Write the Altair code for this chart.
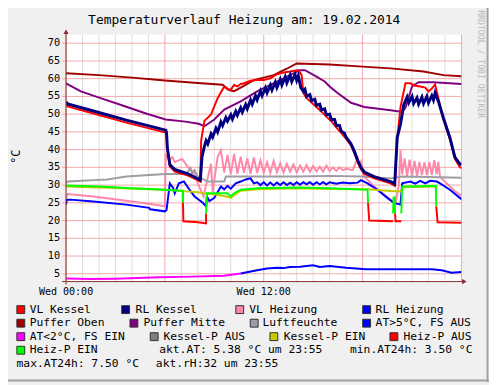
import altair as alt
import pandas as pd

# ---------------- data (hours since Wed 00:00, °C) ----------------
po_h = [0, 2, 4, 6, 8, 9.5, 9.9, 10.2, 10.6, 11.4, 12.6, 13.4, 14.0, 16, 18, 19.7, 21.7, 22.9, 24]
po_v = [61.5, 61.0, 60.3, 59.5, 58.8, 58.3, 56.8, 56.5, 57.5, 59.6, 61.0, 62.8, 64.3, 64.0, 63.4, 62.9, 62.0, 61.0, 60.7]

pm_h = [0, 0.9, 2.1, 3.7, 4.9, 6.05, 7.25, 8.05, 8.4, 9.0, 9.6, 10.6, 11.6, 12.8, 14.2, 14.5, 15.2, 15.7, 16.0,
        16.5, 17.3, 18.1, 19.7, 20.4, 20.6, 21.0, 21.4, 22.3, 24]
pm_v = [58.7, 56.4, 54.5, 52.0, 50.1, 48.5, 47.9, 47.3, 46.6, 48.5, 51.3, 53.6, 56.4, 59.2, 62.4, 62.4, 60.6, 59.2, 57.8,
        55.9, 53.2, 52.0, 51.1, 50.6, 51.8, 57.8, 59.0, 59.0, 58.5]

vlh_h = [0, 0.1, 1.66, 3.66, 5.65, 6.0, 6.05, 6.25, 6.45, 6.6, 7.05, 7.4, 7.8, 8.0, 8.35, 8.45, 8.8, 8.9, 9.2, 9.4,
         9.6, 9.8, 10.0, 10.2, 10.4, 10.6, 10.8, 11.0, 11.2, 11.4, 11.6, 11.8, 12.0, 12.2, 12.4, 12.6, 12.8, 13.0,
         13.2, 13.4, 13.6, 13.8, 14.0, 14.2, 14.4, 14.6, 14.8, 15.0, 15.2, 15.4, 15.6, 15.8, 16.0, 16.2, 16.4,
         16.6, 16.8, 17.0, 17.4, 17.6, 17.7, 17.8, 17.9, 18.1, 18.7, 19.7, 20.0, 20.2, 20.3, 20.4, 20.55, 20.7,
         20.85, 21.0, 21.15, 21.3, 21.45, 21.6, 21.75, 21.9, 22.05, 22.2, 22.35, 22.5, 22.6, 22.7, 23.1, 23.5,
         23.9, 24.0]
vlh_v = [26.5, 27.5, 26.8, 25.6, 24.3, 24.0, 38.8, 37.0, 37.9, 36.5, 37.4, 35.1, 33.3, 30.5, 26.8, 29.0, 36.0, 28.0,
         37.9, 39.8, 33.5, 38.5, 33.0, 38.8, 33.2, 38.0, 33.5, 37.5, 33.2, 37.8, 33.4, 37.0, 33.5, 36.5, 33.4, 36.8,
         33.6, 36.2, 33.5, 36.0, 33.8, 35.8, 33.6, 35.5, 33.8, 35.6, 33.8, 35.4, 33.9, 35.2, 33.8, 35.5, 34.0, 35.0,
         34.0, 35.0, 34.2, 34.6, 34.2, 36.5, 37.5, 35.0, 36.5, 32.4, 29.6, 25.9, 25.0, 30.0, 39.8, 33.0, 37.5, 32.5,
         37.2, 32.5, 36.8, 32.6, 36.5, 32.8, 36.4, 32.8, 36.5, 32.8, 37.0, 33.0, 36.5, 32.4, 30.5, 28.7, 27.3, 27.0]

lf_h = [0, 0.1, 1.0, 1.66, 2.5, 3.66, 4.85, 6.0, 7.3, 7.55, 7.65, 7.8, 8.0, 8.6, 9.6, 9.7, 10.0, 12, 14, 16, 18,
        19.7, 20.4, 22, 24]
lf_v = [30.6, 31.0, 31.2, 31.4, 31.6, 32.4, 32.8, 33.1, 33.1, 34.8, 33.2, 34.2, 32.4, 31.0, 31.0, 32.4, 32.4, 32.4,
        32.4, 32.6, 32.4, 31.9, 32.4, 32.3, 32.1]

rlh_h = [0, 0.05, 0.27, 1.66, 3.66, 5.05, 5.1, 6.0, 6.1, 6.3, 6.5, 6.6, 6.85, 7.15, 7.45, 7.8, 8.3, 8.5, 8.55, 8.7,
         9.0, 9.4, 9.6, 9.8, 10.0, 10.3, 10.6, 10.9, 11.2, 11.4, 11.6, 11.8, 12.0, 12.2, 12.4, 12.6, 12.8, 13.0,
         13.2, 13.4, 13.6, 13.8, 14.0, 14.2, 14.4, 14.6, 14.8, 15.0, 15.2, 15.4, 15.6, 15.8, 16.0, 16.4, 16.8,
         17.2, 17.7, 17.9, 18.3, 18.9, 19.5, 19.9, 20.3, 20.4, 20.9, 21.2, 21.5, 21.8, 22.1, 22.5, 22.7, 23.3,
         23.9, 24.0]
rlh_v = [24.5, 25.9, 25.9, 25.4, 24.5, 23.6, 23.2, 22.6, 23.0, 30.5, 29.2, 27.7, 30.5, 31.0, 29.0, 26.8, 25.0, 24.0,
         26.8, 25.5, 26.4, 29.6, 28.8, 29.8, 29.0, 30.5, 31.0, 31.6, 31.9, 30.5, 30.8, 30.0, 30.8, 29.9, 30.7, 29.9,
         30.7, 30.0, 30.8, 30.0, 30.7, 30.0, 30.8, 30.1, 30.8, 30.2, 30.8, 30.1, 30.8, 30.2, 30.8, 30.2, 30.8, 30.4,
         30.7, 30.5, 30.7, 31.4, 30.5, 28.7, 26.4, 25.0, 24.5, 30.5, 31.0, 30.4, 31.2, 30.5, 31.2, 31.0, 30.5, 28.7,
         26.4, 26.0]

kp_h = [0, 3, 6, 7.1, 8.0, 8.5, 9.0, 9.8, 10.0, 10.3, 10.6, 11.6, 14, 16, 18.3, 19.5, 20.3, 20.45, 22.45]
kp_v = [29.6, 29.2, 28.7, 28.3, 28.0, 27.6, 27.4, 26.7, 26.4, 27.4, 28.4, 28.8, 29.1, 28.9, 28.8, 28.4, 28.2, 29.4, 29.6]

hp_h = [0.0, 2.0, 4.0, 6.0, 7.05, 7.1, 7.1, 7.1, 7.12, 8.0, 8.5, 8.5, 8.5, 8.55, 9.8, 10.0, 10.2, 10.6, 11.6, 14.0,
        16.0, 18.3, 18.33, 18.33, 18.4, 19.85, 19.85, 19.88, 19.95, 19.97, 19.97, 20.0, 20.35, 20.35, 20.4, 21.5,
        22.45, 22.47, 22.47, 22.55, 24.0]
hp_v = [29.9, 29.6, 29.1, 28.7, 28.4, 28.3, 25.0, 25.0, 19.8, 19.5, 19.2, 22.0, 22.0, 27.7, 27.7, 26.8, 27.7, 28.7,
        29.1, 29.3, 29.1, 28.7, 25.0, 25.0, 20.0, 19.8, 22.0, 26.5, 26.5, 22.0, 22.0, 19.8, 19.8, 22.0, 29.6, 29.7,
        29.8, 24.0, 24.0, 19.5, 19.4]
hp_on = [1, 1, 1, 1, 1, 1, 1, 0, 0, 0, 0, 0, 1, 1, 1, 1, 1, 1, 1, 1,
         1, 1, 1, 0, 0, 0, 1, 1, 1, 1, 0, 0, 0, 1, 1, 1,
         1, 1, 0, 0, 0]

vlk_h = [0.0, 0.1, 1.66, 3.66, 6.05, 6.1, 6.15, 6.3, 6.6, 7.4, 8.0, 8.15, 8.2, 8.4, 8.8, 9.2, 9.6, 9.8, 10.0, 10.2,
         10.4, 10.6, 10.8, 11.2, 11.6, 12.0, 12.4, 12.7, 13.0, 13.3, 13.6, 14.1, 14.3, 14.4, 14.6, 14.9, 15.2,
         15.5, 15.8, 16.1, 16.4, 16.7, 17.0, 17.3, 17.5, 17.7, 17.9, 18.1, 18.7, 19.7, 19.95, 20.1, 20.3, 20.6,
         20.9, 21.2, 21.5, 21.8, 22.0, 22.2, 22.4, 22.6, 22.9, 23.3, 23.6, 23.9, 24.0]
vlk_v = [52.9, 52.2, 50.2, 47.6, 44.8, 44.2, 40.0, 35.2, 33.8, 32.7, 31.4, 31.0, 42.5, 48.1, 49.9, 54.5, 57.8, 57.0,
         56.9, 58.2, 57.8, 58.5, 58.7, 59.4, 59.6, 59.6, 60.1, 61.0, 61.5, 61.8, 62.0, 62.4, 61.0, 56.0, 54.5, 53.3,
         52.0, 50.7, 49.3, 48.0, 46.3, 44.7, 43.0, 41.1, 39.0, 36.5, 34.5, 33.2, 31.9, 30.5, 29.8, 43.0, 52.0, 58.7,
         58.7, 58.0, 57.8, 57.5, 56.4, 57.2, 58.4, 54.5, 48.5, 42.9, 37.4, 35.1, 34.8]

rlk_h = [0.0, 0.1, 1.66, 3.66, 6.05, 6.1, 6.15, 6.3, 6.6, 7.4, 8.0, 8.15, 8.25, 8.4, 8.5, 8.6, 8.8, 8.9, 9.1, 9.2,
         9.4, 9.5, 9.7, 9.8, 10.0, 10.1, 10.3, 10.4, 10.6, 10.7, 10.9, 11.0, 11.2, 11.3, 11.5, 11.6, 11.8, 11.9,
         12.1, 12.2, 12.4, 12.5, 12.7, 12.8, 13.0, 13.1, 13.3, 13.4, 13.6, 13.7, 13.9, 14.0, 14.1, 14.25, 14.4,
         14.5, 14.6, 14.8, 14.9, 15.1, 15.2, 15.4, 15.5, 15.7, 15.8, 16.0, 16.1, 16.3, 16.4, 16.6, 16.7, 16.9,
         17.0, 17.3, 17.5, 17.7, 17.9, 18.1, 18.7, 19.7, 19.95, 20.1, 20.3, 20.5, 20.7, 20.8, 21.0, 21.1, 21.3,
         21.4, 21.6, 21.7, 21.9, 22.0, 22.2, 22.3, 22.4, 22.6, 22.9, 23.3, 23.6, 23.9, 24.0]
rlk_v = [53.4, 52.9, 50.9, 48.3, 45.5, 44.8, 40.5, 35.8, 34.4, 33.2, 31.8, 31.4, 37.9, 41.0, 42.5, 41.6, 44.4, 43.5,
         46.0, 45.0, 47.8, 46.8, 49.0, 48.0, 49.8, 48.6, 50.8, 49.7, 51.8, 50.6, 52.7, 51.5, 54.0, 52.8, 55.2, 54.0,
         56.5, 55.2, 57.4, 56.0, 58.2, 56.8, 59.0, 57.5, 59.8, 58.2, 60.5, 58.8, 61.0, 59.2, 61.2, 59.5, 60.8, 57.5,
         56.5, 57.0, 55.0, 55.5, 53.8, 54.2, 52.5, 52.8, 51.2, 51.5, 49.8, 50.0, 48.5, 48.5, 46.8, 46.8, 45.2, 44.6,
         43.5, 41.6, 39.5, 37.0, 35.0, 33.7, 32.4, 31.0, 30.3, 43.4, 47.2, 52.7, 54.8, 53.2, 55.0, 53.0, 54.6, 52.8,
         54.8, 53.0, 55.0, 53.2, 55.2, 54.0, 56.0, 53.6, 49.0, 43.4, 37.9, 36.0, 35.8]

atc_h = [0, 1.5, 3, 5.65, 7.65, 9.6, 10.6]
atc_v = [3.7, 3.5, 3.6, 4.0, 4.2, 4.45, 5.1]
atw_h = [10.6, 11.6, 12.2, 12.8, 13.2, 13.6, 14.2, 15.0, 15.4, 16.0, 17.0, 18.2, 19.6, 22.2, 22.8, 23.4, 24.0]
atw_v = [5.1, 6.0, 6.5, 6.7, 6.6, 6.9, 7.0, 7.4, 6.9, 7.2, 6.7, 6.3, 6.3, 6.3, 6.0, 5.3, 5.5]

y_ticks = [5, 10, 15, 20, 25, 30, 35, 40, 45, 50, 55, 60, 65, 70]
x_label_h = [0, 12]
x_labels = ["Wed 00:00", "Wed 12:00"]
x_minor_h = [h for h in range(1, 24) if h % 6]
x_major_h = [0, 6, 12, 18, 24]

legend_names = ["VL Kessel", "RL Kessel", "VL Heizung", "RL Heizung",
                "Puffer Oben", "Puffer Mitte", "Luftfeuchte", "AT>5°C, FS AUS",
                "AT<2°C, FS EIN", "Kessel-P AUS", "Kessel-P EIN", "Heiz-P AUS",
                "Heiz-P EIN"]
legend_colors = ["#ff0000", "#000080", "#ff88aa", "#0000ff",
                 "#a00000", "#800080", "#a098a4", "#0000ff",
                 "#ff00ff", "#808080", "#c8c800", "#ff0000",
                 "#00ff00"]
info_texts = ["akt.AT: 5.38 °C um 23:55", "min.AT24h: 3.50 °C",
              "max.AT24h: 7.50 °C", "akt.rH:32 um 23:55"]
title_text = "Temperaturverlauf Heizung am: 19.02.2014"

# ---------------- layout (page pixels) ----------------
PX0, PY0 = 67, 32          # plot origin on the page
W, H = 402, 251
FONT = "DejaVu Sans Mono"

xs = alt.Scale(domain=[0, 24], nice=False, zero=False)
ys = alt.Scale(domain=[2.8, 72.4], nice=False, zero=False)
X = alt.X("h:Q", scale=xs, axis=None)
Y = alt.Y("v:Q", scale=ys, axis=None)


def line(h, v, color, width=2):
    df = pd.DataFrame({"h": h, "v": v, "i": range(len(h))})
    return alt.Chart(df).mark_line(color=color, strokeWidth=width, clip=True).encode(
        x=X, y=Y, order="i:Q")


def seg_line(h, v, on, c_on, c_off, width=2):
    seg, s = [], 0
    for k in range(len(on)):
        if k > 0 and on[k] != on[k - 1]:
            s += 1
        seg.append(s)
    df = pd.DataFrame({"h": h, "v": v, "on": on, "seg": seg, "i": range(len(h))})
    return alt.Chart(df).mark_line(strokeWidth=width, clip=True).encode(
        x=X, y=Y, order="i:Q", detail="seg:N",
        color=alt.Color("on:N", scale=alt.Scale(domain=[0, 1], range=[c_off, c_on]), legend=None))


# grid
hgrid = alt.Chart(pd.DataFrame({"v": y_ticks})).mark_rule(color="#f2a8a8", strokeWidth=1).encode(
    y=Y, x=alt.value(-4), x2=alt.value(W))
vminor = alt.Chart(pd.DataFrame({"h": x_minor_h})).mark_rule(color="#dcdcdc", strokeWidth=1).encode(
    x=X, y=alt.value(0), y2=alt.value(H))
vmajor = alt.Chart(pd.DataFrame({"h": x_major_h})).mark_rule(color="#f2a8a8", strokeWidth=1).encode(
    x=X, y=alt.value(0), y2=alt.value(H))

# data lines
lines = [
    line(po_h, po_v, "#a00000"),
    line(pm_h, pm_v, "#800080"),
    line(vlh_h, vlh_v, "#ff88aa"),
    line(lf_h, lf_v, "#a09ca4"),
    line(rlh_h, rlh_v, "#0000ff"),
    line(kp_h, kp_v, "#c8c800"),
    seg_line(hp_h, hp_v, hp_on, "#00ff00", "#ff0000"),
    line(vlk_h, vlk_v, "#ff0000"),
    line(rlk_h, rlk_v, "#000080", 3),
    line(atc_h, atc_v, "#ff00ff"),
    line(atw_h, atw_v, "#0000ff"),
]

# axes with arrows
axis_col = "#8a2a2a"
xaxis = alt.Chart(pd.DataFrame({"a": [0]})).mark_rule(color=axis_col, strokeWidth=1).encode(
    x=alt.value(-4), x2=alt.value(W + 3), y=alt.value(H))
yaxis = alt.Chart(pd.DataFrame({"a": [0]})).mark_rule(color=axis_col, strokeWidth=1).encode(
    x=alt.value(0), y=alt.value(H + 3), y2=alt.value(-3))
arrow_up = alt.Chart(pd.DataFrame({"a": [0]})).mark_point(
    shape="triangle-up", filled=True, color=axis_col, size=28, opacity=1).encode(
    x=alt.value(0), y=alt.value(-3))
arrow_right = alt.Chart(pd.DataFrame({"a": [0]})).mark_point(
    shape="triangle-right", filled=True, color=axis_col, size=28, opacity=1).encode(
    x=alt.value(W + 3), y=alt.value(H))

ylab = alt.Chart(pd.DataFrame({"v": y_ticks, "t": [str(t) for t in y_ticks]})).mark_text(
    font=FONT, fontSize=10.4, align="right", baseline="middle", color="#000000").encode(
    y=Y, x=alt.value(-6), text="t:N")
xlab = alt.Chart(pd.DataFrame({"h": x_label_h, "t": x_labels})).mark_text(
    font=FONT, fontSize=10.2, align="center", baseline="middle", color="#000000").encode(
    x=X, y=alt.value(294 - PY0), text="t:N")

# free texts positioned in page pixels
row_y = [311.5, 325.3, 339.0, 352.8, 367.0]
sq_x = [16.7, 123.3, 239.3, 368.3,
        16.7, 131.7, 254.0, 368.3,
        16.7, 152.3, 274.0, 396.0,
        16.7]
tx_x = [30.0, 137.7, 253.3, 381.7,
        30.0, 145.7, 266.7, 381.7,
        30.0, 166.0, 288.3, 410.0,
        30.0]
sq_row = [0, 0, 0, 0, 1, 1, 1, 1, 2, 2, 2, 2, 3]

leg_sq = pd.DataFrame({
    "px": [x + 4.3 - PX0 for x in sq_x],
    "py": [row_y[r] - PY0 for r in sq_row],
    "c": legend_colors,
})
leg_tx = pd.DataFrame({
    "px": [x - PX0 for x in tx_x] + [161.7 - PX0, 355.7 - PX0, 16.7 - PX0, 158.3 - PX0],
    "py": [row_y[r] - PY0 for r in sq_row] + [row_y[3] - PY0, row_y[3] - PY0, row_y[4] - PY0, row_y[4] - PY0],
    "t": legend_names + info_texts,
})

squares = alt.Chart(leg_sq).mark_square(size=64, stroke="#303030", strokeWidth=1, opacity=1).encode(
    x=alt.X("px:Q", scale=None), y=alt.Y("py:Q", scale=None), fill=alt.Fill("c:N", scale=None))
legtext = alt.Chart(leg_tx).mark_text(
    font=FONT, fontSize=11.5, align="left", baseline="middle", color="#000000").encode(
    x=alt.X("px:Q", scale=None), y=alt.Y("py:Q", scale=None), text="t:N")

other = pd.DataFrame({
    "px": [248.2 - PX0, 16.5 - PX0, 487.5 - PX0],
    "py": [16.7 - PY0, 156 - PY0, 62 - PY0],
    "t": [title_text, "°C", "RRDTOOL / TOBI OETIKER"],
})
title = alt.Chart(other.iloc[[0]]).mark_text(
    font=FONT, fontSize=13.2, align="center", baseline="middle", color="#000000").encode(
    x=alt.X("px:Q", scale=None), y=alt.Y("py:Q", scale=None), text="t:N")
ytitle = alt.Chart(other.iloc[[1]]).mark_text(
    font=FONT, fontSize=12, align="center", baseline="middle", angle=270, color="#000000").encode(
    x=alt.X("px:Q", scale=None), y=alt.Y("py:Q", scale=None), text="t:N")
credit = alt.Chart(other.iloc[[2]]).mark_text(
    font=FONT, fontSize=8.3, align="center", baseline="middle", angle=90, color="#b8b8b8").encode(
    x=alt.X("px:Q", scale=None), y=alt.Y("py:Q", scale=None), text="t:N")

# frame (right and bottom bevel)
frame_r = alt.Chart(pd.DataFrame({"a": [0]})).mark_rule(color="#a0a0a0", strokeWidth=2).encode(
    x=alt.value(495.5 - PX0), y=alt.value(-PY0), y2=alt.value(385 - PY0))
frame_b = alt.Chart(pd.DataFrame({"a": [0]})).mark_rule(color="#a0a0a0", strokeWidth=2).encode(
    y=alt.value(383.5 - PY0), x=alt.value(-PX0), x2=alt.value(497 - PX0))

chart = alt.layer(
    vminor, vmajor, hgrid, *lines, xaxis, yaxis, arrow_up, arrow_right,
    ylab, xlab, squares, legtext, title, ytitle, credit, frame_r, frame_b
).resolve_scale(x="independent", y="independent").properties(
    width=W, height=H,
    padding={"left": PX0 - 8, "top": PY0 - 8, "right": 489 - (PX0 - 8) - W, "bottom": 377 - (PY0 - 8) - H},
    autosize=alt.AutoSizeParams(type="none"),
    background="#f0f0f0",
).configure_view(stroke=None, fill="#ffffff")

chart.save("out.html", embed_options={"renderer": "svg", "actions": False})
